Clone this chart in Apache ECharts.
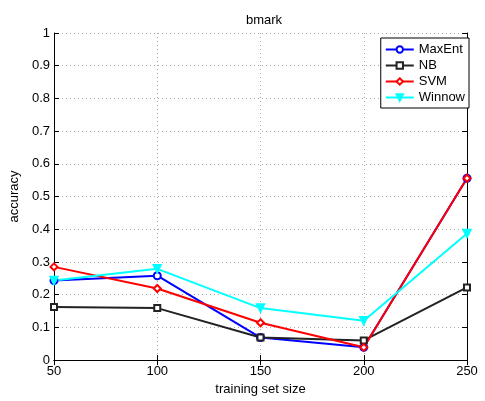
<!DOCTYPE html>
<html><head><meta charset="utf-8">
<script src="https://cdn.jsdelivr.net/npm/echarts@6/dist/echarts.min.js"></script>
<style>html,body{margin:0;padding:0;background:#fff}#c{width:485px;height:401px}</style>
</head><body><div id="c"></div>
<script>
const sizes = [50, 100, 150, 200, 250];
const maxent = [0.243, 0.258, 0.069, 0.039, 0.556];
const nb = [0.162, 0.159, 0.069, 0.060, 0.222];
const svm = [0.285, 0.219, 0.114, 0.039, 0.556];
const winnow = [0.243, 0.279, 0.159, 0.120, 0.387];
const FONT = 'Liberation Sans';
function pts(v){ return sizes.map((s,i)=>[s,v[i]]); }
function ser(name, data, color, symbol, extra){
  return Object.assign({
    name, type:'line', data: pts(data), symbol, symbolSize:6,
    lineStyle:{color, width:2}, itemStyle:{color, borderColor:color, borderWidth:1.5},
    emphasis:{disabled:true}, animation:false
  }, extra||{});
}
const chart = echarts.init(document.getElementById('c'), null, {renderer:'canvas'});
const axisCommon = {
  axisLine:{show:true, lineStyle:{color:'#000', width:1}},
  axisTick:{show:true, inside:true, length:5, lineStyle:{color:'#000'}},
};
chart.setOption({
  backgroundColor:'#fff',
  animation:false,
  title:{text:'bmark', top:9, left:259, textAlign:'center', textStyle:{fontFamily:FONT, fontSize:13, fontWeight:'normal', color:'#000'}},
  grid:{left:51, right:18, top:33, bottom:35, containLabel:false},
  legend:{
    right:16, top:38, orient:'vertical', itemWidth:28, itemHeight:8, itemGap:3,
    backgroundColor:'#fff', borderColor:'#000', borderWidth:1, padding:[5,4,4,4],
    textStyle:{fontFamily:FONT, fontSize:13, color:'#000'},
    data:['MaxEnt','NB','SVM','Winnow']
  },
  xAxis:[
    Object.assign({type:'value', min:50, max:250, interval:50, position:'bottom',
      name:'training set size', nameLocation:'middle', nameGap:16,
      nameTextStyle:{fontFamily:FONT, fontSize:13, color:'#000'},
      axisLabel:{fontFamily:FONT, fontSize:13, color:'#000', margin:5},
      splitLine:{show:true, lineStyle:{color:'#aaa', type:[1,3], width:1}}}, axisCommon),
    Object.assign({type:'value', min:50, max:250, interval:50, position:'top',
      axisLabel:{show:false}, splitLine:{show:false}}, axisCommon)
  ],
  yAxis:[
    Object.assign({type:'value', min:0, max:1, interval:0.1, position:'left',
      name:'accuracy', nameLocation:'middle', nameGap:33, nameRotate:90,
      nameTextStyle:{fontFamily:FONT, fontSize:13, color:'#000'},
      axisLabel:{fontFamily:FONT, fontSize:13, color:'#000', margin:4,
        formatter:v=>String(Math.round(v*10)/10)},
      splitLine:{show:true, lineStyle:{color:'#aaa', type:[1,3], width:1}}}, axisCommon),
    Object.assign({type:'value', min:0, max:1, interval:0.1, position:'right',
      axisLabel:{show:false}, splitLine:{show:false}}, axisCommon)
  ],
  series:[
    ser('MaxEnt', maxent, '#0000ff', 'emptyCircle', {symbolSize:7}),
    ser('NB', nb, '#222222', 'emptyRect'),
    ser('SVM', svm, '#ff0000', 'emptyDiamond', {symbolSize:7}),
    ser('Winnow', winnow, '#00ffff', 'triangle', {symbolRotate:180, symbolSize:8})
  ]
});
</script></body></html>
